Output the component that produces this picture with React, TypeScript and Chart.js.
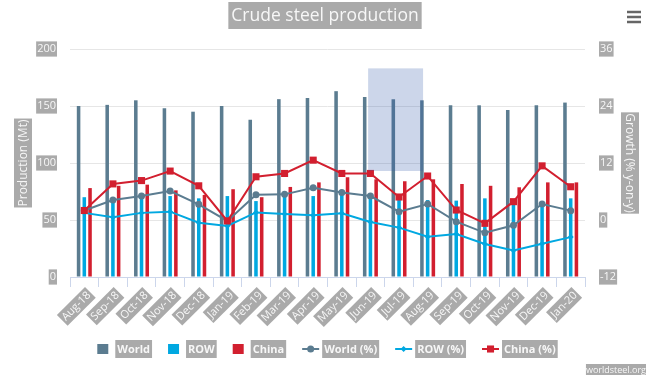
import React, { useEffect, useRef } from "react";
import { Chart, registerables } from "chart.js";

Chart.register(...registerables);

const categories = ["Aug-18", "Sep-18", "Oct-18", "Nov-18", "Dec-18", "Jan-19", "Feb-19", "Mar-19", "Apr-19", "May-19", "Jun-19", "Jul-19", "Aug-19", "Sep-19", "Oct-19", "Nov-19", "Dec-19", "Jan-20"];
const worldMt = [150, 151, 155, 148, 145, 150, 138, 156, 157, 163, 158, 156, 155, 150.6, 150.6, 146.5, 150.6, 153];
const rowMt = [70, 67.5, 69, 71, 69, 71, 66.6, 70.5, 71, 73, 72, 67.5, 67.5, 67, 69, 66, 64.6, 69];
const chinaMt = [78, 80, 81, 76, 72, 77, 70, 79, 83, 87.5, 85.7, 84, 85.7, 81.6, 80, 78.7, 83, 83];
const worldPct = [2.0, 4.2, 5.05, 6.1, 3.3, -0.2, 5.3, 5.4, 6.8, 5.8, 5.05, 1.75, 3.37, -0.35, -2.7, -1.12, 3.37, 1.97];
const rowPct = [1.5, 0.56, 1.5, 1.75, -0.56, -1.26, 1.6, 1.26, 1.0, 1.4, -0.42, -1.6, -3.5, -2.95, -5.05, -6.4, -5.0, -3.6];
const chinaPct = [2.0, 7.6, 8.3, 10.3, 7.2, -0.2, 9.1, 9.8, 12.6, 9.8, 9.8, 4.84, 9.26, 2.1, -0.7, 3.86, 11.4, 7.0];
const leftTicks = { min: 0, max: 200, step: 50 };
const rightTicks = { min: -12, max: 36, step: 12 };
// selection box in data units (category index range, Mt range)
const selectionX = [9.92, 11.84];
const selectionY = [93, 183];

const WORLD = "#5b7c90";
const ROW = "#00a8e1";
const CHINA = "#d21f2f";
const BACK = "#aaaaaa";
const TXT = "#f7f7f7";
const FAMILY = '"Open Sans", "DejaVu Sans", sans-serif';

function boxText(ctx: CanvasRenderingContext2D, text: string, cx: number, cy: number, font: string, rot: number, padX: number, boxH: number, align: string) {
  ctx.save();
  ctx.translate(cx, cy);
  ctx.rotate(rot);
  ctx.font = font;
  const w = ctx.measureText(text).width;
  const x0 = align === "center" ? -w / 2 : align === "right" ? -w : 0;
  ctx.fillStyle = BACK;
  ctx.fillRect(x0 - padX, -boxH / 2, w + 2 * padX, boxH);
  ctx.fillStyle = TXT;
  ctx.textBaseline = "middle";
  ctx.textAlign = "left";
  ctx.fillText(text, x0, 0.5);
  ctx.restore();
}

function marker(ctx: CanvasRenderingContext2D, style: string, x: number, y: number, r: number, color: string) {
  ctx.fillStyle = color;
  ctx.beginPath();
  if (style === "circle") {
    ctx.arc(x, y, r, 0, Math.PI * 2);
  } else if (style === "rect") {
    const s = r * Math.SQRT1_2;
    ctx.rect(x - s, y - s, 2 * s, 2 * s);
  } else {
    ctx.moveTo(x, y - r);
    ctx.lineTo(x + r, y);
    ctx.lineTo(x, y + r);
    ctx.lineTo(x - r, y);
    ctx.closePath();
  }
  ctx.fill();
}

const overlay = {
  id: "overlay",
  afterDatasetsDraw(chart: any) {
    const ctx = chart.ctx as CanvasRenderingContext2D;
    const xs = chart.scales.x;
    const ys = chart.scales.y;
    const x0 = xs.getPixelForValue(selectionX[0]);
    const x1 = xs.getPixelForValue(selectionX[1]);
    const y0 = ys.getPixelForValue(selectionY[1]);
    const y1 = ys.getPixelForValue(selectionY[0]);
    ctx.save();
    ctx.fillStyle = "rgba(51,92,173,0.25)";
    ctx.fillRect(x0, y0, x1 - x0, y1 - y0);
    ctx.restore();
  },
  afterDraw(chart: any) {
    const ctx = chart.ctx as CanvasRenderingContext2D;
    const area = chart.chartArea;
    const midY = (area.top + area.bottom) / 2;
    // title
    boxText(ctx, "Crude steel production", chart.width / 2 - 3, 15.5, `17.5px ${FAMILY}`, 0, 3, 27, "center");
    // axis titles
    boxText(ctx, "Production (Mt)", 23, midY, `12px ${FAMILY}`, -Math.PI / 2, 1, 18, "center");
    boxText(ctx, "Growth (% y-on-y)", 630, midY, `12px ${FAMILY}`, Math.PI / 2, 1, 18, "center");
    // credit
    boxText(ctx, "worldsteel.org", 646, 369.5, `9px ${FAMILY}`, 0, 0, 11, "right");
    // hamburger
    ctx.save();
    ctx.strokeStyle = "#666666";
    ctx.lineWidth = 2.5;
    for (const yy of [12, 17, 22]) {
      ctx.beginPath();
      ctx.moveTo(627, yy);
      ctx.lineTo(641, yy);
      ctx.stroke();
    }
    ctx.restore();
    // legend
    const font = `bold 11px ${FAMILY}`;
    ctx.save();
    ctx.font = font;
    const items = chart.data.datasets.map((ds: any) => {
      const isLine = ds.type === "line";
      const tw = ctx.measureText(ds.label).width + 4;
      const sw = isLine ? 17 : 11;
      const gap = isLine ? 3 : 7;
      return { ds, isLine, tw, sw, gap, w: sw + gap + tw };
    });
    const itemGap = 16;
    const total = items.reduce((a: number, it: any) => a + it.w, 0) + itemGap * (items.length - 1);
    let x = (area.left + area.right) / 2 - total / 2;
    const cy = 349;
    ctx.restore();
    for (const it of items) {
      const color = it.ds.borderColor || it.ds.backgroundColor;
      if (it.isLine) {
        ctx.save();
        ctx.strokeStyle = color;
        ctx.lineWidth = 2;
        ctx.beginPath();
        ctx.moveTo(x, cy);
        ctx.lineTo(x + it.sw, cy);
        ctx.stroke();
        marker(ctx, it.ds.pointStyle, x + it.sw / 2, cy, it.ds.pointRadius, color);
        ctx.restore();
      } else {
        ctx.save();
        ctx.fillStyle = it.ds.backgroundColor;
        ctx.fillRect(x, cy - 5, 11, 10);
        ctx.restore();
      }
      boxText(ctx, it.ds.label, x + it.sw + it.gap + 2, cy, font, 0, 2, 18, "left");
      x += it.w + itemGap;
    }
  },
};

export default function App() {
  const ref = useRef<HTMLCanvasElement | null>(null);
  useEffect(() => {
    document.body.style.margin = "0";
    const canvas = ref.current;
    if (!canvas) return;
    const tickFont = { family: FAMILY, size: 11 };
    const chart = new Chart(canvas, {
      type: "bar",
      data: {
        labels: categories,
        datasets: [
          { type: "bar", label: "World", data: worldMt, backgroundColor: WORLD, yAxisID: "y", order: 5, categoryPercentage: 0.6, barPercentage: 0.62 },
          { type: "bar", label: "ROW", data: rowMt, backgroundColor: ROW, yAxisID: "y", order: 5, categoryPercentage: 0.6, barPercentage: 0.62 },
          { type: "bar", label: "China", data: chinaMt, backgroundColor: CHINA, yAxisID: "y", order: 5, categoryPercentage: 0.6, barPercentage: 0.62 },
          { type: "line", label: "World (%)", data: worldPct, borderColor: WORLD, backgroundColor: WORLD, yAxisID: "y1", order: 3, borderWidth: 2, pointStyle: "circle", pointRadius: 3.5, pointBorderWidth: 0, tension: 0 },
          { type: "line", label: "ROW (%)", data: rowPct, borderColor: ROW, backgroundColor: ROW, yAxisID: "y1", order: 2, borderWidth: 2, pointStyle: "rectRot", pointRadius: 3, pointBorderWidth: 0, tension: 0 },
          { type: "line", label: "China (%)", data: chinaPct, borderColor: CHINA, backgroundColor: CHINA, yAxisID: "y1", order: 1, borderWidth: 2, pointStyle: "rect", pointRadius: 5, pointBorderWidth: 0, tension: 0 },
        ] as any,
      },
      options: {
        responsive: false,
        animation: false,
        layout: { padding: { top: 49, left: 0, right: 0, bottom: 0 } },
        plugins: { legend: { display: false }, title: { display: false }, tooltip: { enabled: false } },
        scales: {
          x: {
            type: "category",
            offset: true,
            grid: { offset: true, drawOnChartArea: false, drawTicks: true, tickLength: 10, color: "#ccd6eb" },
            border: { color: "#ccd6eb", width: 1 },
            ticks: {
              autoSkip: false, minRotation: 45, maxRotation: 45, padding: 2, font: tickFont, color: TXT,
              showLabelBackdrop: true, backdropColor: BACK, backdropPadding: { x: 2, y: 1 },
            } as any,
            afterFit: (s: any) => { s.height = 103; },
          },
          y: {
            position: "left",
            min: leftTicks.min,
            max: leftTicks.max,
            ticks: {
              stepSize: leftTicks.step, padding: 14, font: tickFont, color: TXT,
              showLabelBackdrop: true, backdropColor: BACK, backdropPadding: { x: 1, y: 1 },
            } as any,
            grid: { drawTicks: false, color: (c: any) => (c.tick && c.tick.value === 0 ? "rgba(0,0,0,0)" : "#e6e6e6") },
            border: { display: false },
            afterFit: (s: any) => { s.width = 70; },
          },
          y1: {
            position: "right",
            min: rightTicks.min,
            max: rightTicks.max,
            ticks: {
              stepSize: rightTicks.step, padding: 15, font: tickFont, color: TXT,
              showLabelBackdrop: true, backdropColor: BACK, backdropPadding: { x: 1, y: 1 },
            } as any,
            grid: { display: false, drawTicks: false },
            border: { display: false },
            afterFit: (s: any) => { s.width = 71; },
          },
        },
      } as any,
      plugins: [overlay],
    });
    return () => chart.destroy();
  }, []);
  return <canvas ref={ref} width={656} height={380} style={{ display: "block", width: 656, height: 380 }} />;
}
